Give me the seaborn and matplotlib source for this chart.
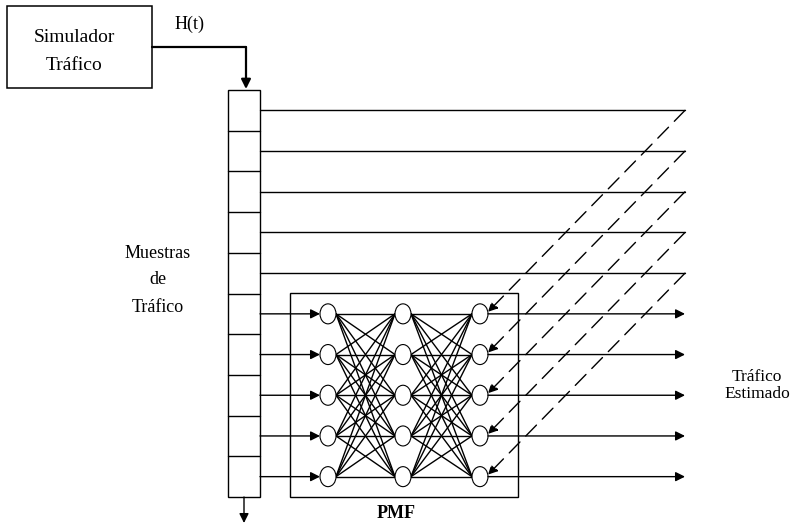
import numpy as np
import matplotlib
matplotlib.use("Agg")
import matplotlib.pyplot as plt
from matplotlib.patches import Ellipse, Rectangle
import seaborn as sns

sns.set_theme(style="white")
plt.rcParams['font.family'] = ['Liberation Serif', 'DejaVu Serif']
plt.rcParams['text.color'] = 'black'

# diagram content
sim_label = ["Simulador", "Tráfico"]
signal_label = "H(t)"
buffer_label = ["Muestras", "de", "Tráfico"]
out_label = ["Tráfico", "Estimado"]
net_label = "PMF"
n_cells = 10          # cells in the sample register
n_fed_back = 5        # top cells fed by the delayed estimates
layer_sizes = [5, 5, 5]

W, H = 795, 525
fig = plt.figure(figsize=(W / 100, H / 100), dpi=100)
ax = fig.add_axes([0, 0, 1, 1])
ax.set_xlim(0, W)
ax.set_ylim(H, 0)
ax.axis("off")

lw = 1.0
k = "black"

def arrow(x0, y0, x1, y1, ls="-", lw=lw):
    ax.annotate("", xy=(x1, y1), xytext=(x0, y0),
                arrowprops=dict(arrowstyle="-|>", mutation_scale=14, color=k,
                                lw=lw, linestyle=ls, shrinkA=0, shrinkB=0))

# simulator box
ax.add_patch(Rectangle((7, 6), 145, 82, fill=False, ec=k, lw=1.1))
ax.text(74, 37, sim_label[0], ha="center", va="center", fontsize=14)
ax.text(74, 65, sim_label[1], ha="center", va="center", fontsize=14)
ax.text(190, 24, signal_label, ha="center", va="center", fontsize=13)
ax.plot([152, 246], [47, 47], color=k, lw=1.6)
arrow(246, 47, 246, 89, lw=1.6)

# sample register
col_x0, col_x1, col_top, col_bot = 228, 260, 90, 497
bounds = np.linspace(col_top, col_bot, n_cells + 1)
rows = (bounds[:-1] + bounds[1:]) / 2
ax.add_patch(Rectangle((col_x0, col_top), col_x1 - col_x0, col_bot - col_top,
                       fill=False, ec=k, lw=lw))
for b in bounds[1:-1]:
    ax.plot([col_x0, col_x1], [b, b], color=k, lw=lw)
arrow(244, col_bot, 244, 523)
for i, s in enumerate(buffer_label):
    ax.text(158, 253 + 27 * i, s, ha="center", va="center", fontsize=13)

# network box
ax.add_patch(Rectangle((290, 293), 228, 204, fill=False, ec=k, lw=lw))
ax.text(396, 513, net_label, ha="center", va="center", fontsize=13, fontweight="bold")

layer_x = [328, 403, 480]
ew, eh = 16, 20
node_y = rows[n_fed_back:]
right_end = 685

# fully connected weights
for li in range(len(layer_sizes) - 1):
    for ya in node_y[:layer_sizes[li]]:
        for yb in node_y[:layer_sizes[li + 1]]:
            ax.plot([layer_x[li] + ew / 2, layer_x[li + 1] - ew / 2], [ya, yb],
                    color=k, lw=lw)

for x, n in zip(layer_x, layer_sizes):
    for y in node_y[:n]:
        ax.add_patch(Ellipse((x, y), ew, eh, fc="white", ec=k, lw=0.8, zorder=3))

# inputs and outputs
for y in node_y:
    arrow(col_x1, y, layer_x[0] - ew / 2, y)
    arrow(layer_x[-1] + ew / 2, y, right_end, y)

# delayed feedback lines
for y_top, y_node in zip(rows[:n_fed_back], node_y):
    ax.plot([col_x1, right_end], [y_top, y_top], color=k, lw=lw)
    ax.annotate("", xy=(layer_x[-1] + ew / 2, y_node - 2), xytext=(right_end, y_top),
                arrowprops=dict(arrowstyle="-|>", mutation_scale=14, color=k, lw=lw,
                                linestyle=(0, (11, 6)), shrinkA=0, shrinkB=0))

ax.text(757, 377, out_label[0], ha="center", va="center", fontsize=12.5)
ax.text(757, 394, out_label[1], ha="center", va="center", fontsize=12.5)

fig.savefig("out.png", dpi=100, facecolor="white")
